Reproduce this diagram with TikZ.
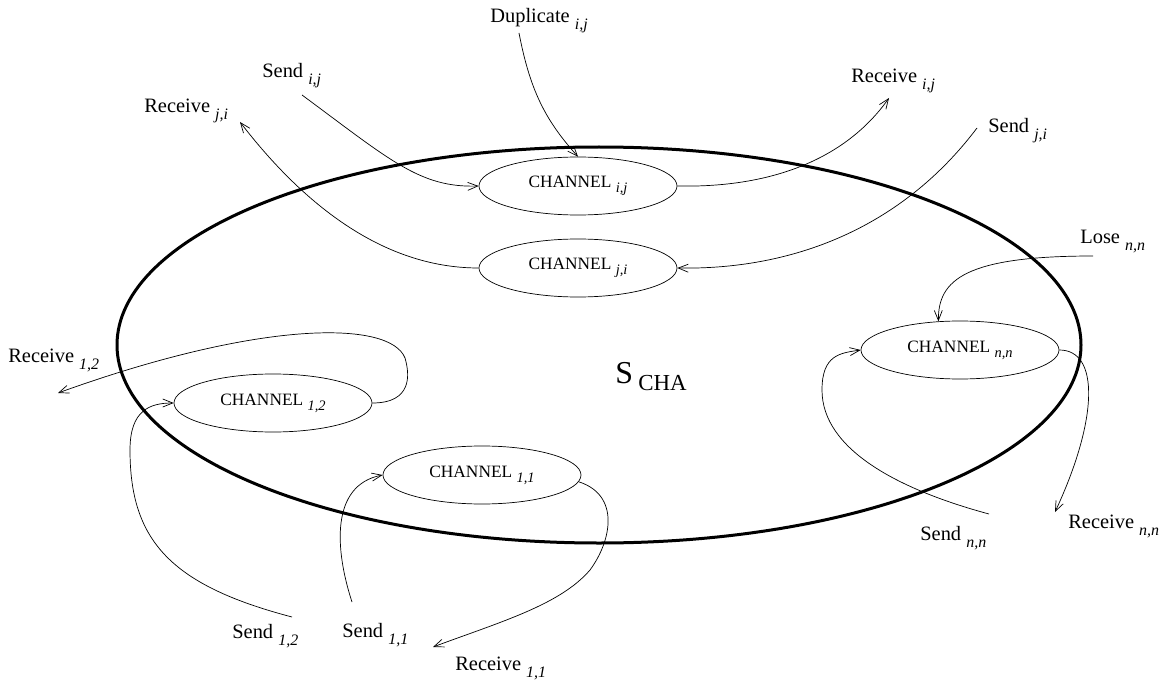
\documentclass[tikz,border=0pt]{standalone}
\usepackage{fontspec}
\setmainfont{Liberation Serif}
\usetikzlibrary{shapes.geometric,arrows.meta}
\newcommand{\lsub}[1]{\raisebox{-7bp}{\fontsize{16}{16}\selectfont\itshape #1}}
\newcommand{\csub}[1]{\raisebox{-5bp}{\fontsize{14.5}{14.5}\selectfont\itshape #1}}
\begin{document}
\begin{tikzpicture}[x=1bp,y=-1bp,line width=0.7bp,
    >={Straight Barb[length=10bp,width=8bp]},
    chan/.style={draw,ellipse,minimum width=198bp,minimum height=58bp,inner sep=0pt,font=\fontsize{17.4}{20}\selectfont},
    lbl/.style={inner sep=0pt,anchor=base west,font=\fontsize{20.5}{24}\selectfont}]
    \useasboundingbox (0,0) rectangle (1166,683);
    \draw[line width=3bp] (599,345) ellipse (482 and 198);
    \node[inner sep=0pt,anchor=base west,font=\fontsize{32}{36}\selectfont] (scha) at (615,383) {S\,\raisebox{-7bp}{\fontsize{23}{23}\selectfont CHA}};

    \node[chan] (cij) at (578,186) {CHANNEL \csub{i,j}};
    \node[chan] (cji) at (578,268) {CHANNEL \csub{j,i}};
    \node[chan] (c12) at (273,403) {CHANNEL \csub{1,2}};
    \node[chan] (c11) at (482,475) {CHANNEL \csub{1,1}};
    \node[chan] (cnn) at (960,350) {CHANNEL \csub{n,n}};

    \node[lbl] (dup) at (490,23) {Duplicate \lsub{i,j}};
    \node[lbl] (sij) at (262,78) {Send \lsub{i,j}};
    \node[lbl] (rji) at (144,113) {Receive \lsub{j,i}};
    \node[lbl] (rij) at (851,83) {Receive \lsub{i,j}};
    \node[lbl] (sji) at (988,133) {Send \lsub{j,i}};
    \node[lbl] (lnn) at (1080,243) {Lose \lsub{n,n}};
    \node[lbl] (r12) at (8,362) {Receive \lsub{1,2}};
    \node[lbl] (s12) at (232,638) {Send \lsub{1,2}};
    \node[lbl] (s11) at (342,637) {Send \lsub{1,1}};
    \node[lbl] (r11) at (455,670) {Receive \lsub{1,1}};
    \node[lbl] (snn) at (920,540) {Send \lsub{n,n}};
    \node[lbl] (rnn) at (1068,528) {Receive \lsub{n,n}};

    \coordinate (dupe) at (519,33);
    \coordinate (sije) at (302,95);
    \coordinate (rjie) at (240,122);
    \coordinate (rije) at (889,98);
    \coordinate (sjie) at (977,128);
    \coordinate (lnne) at (1093,256);
    \coordinate (r12e) at (58,393);
    \coordinate (s12e) at (292,617);
    \coordinate (s11e) at (352,602);
    \coordinate (r11e) at (433,647);
    \coordinate (snne) at (989,514);
    \coordinate (rnne) at (1055,512);

    \draw[->] (dupe) .. controls (530,90) and (545,120) .. (cij.north);
    \draw[->] (sije) .. controls (390,160) and (420,188) .. (cij.west);
    \draw[->] (cij.east) .. controls (770,188) and (845,160) .. (rije);
    \draw[->] (sjie) .. controls (900,230) and (790,270) .. (cji.east);
    \draw[->] (cji.west) .. controls (380,268) and (300,200) .. (rjie);
    \draw[->] (lnne) .. controls (965,256) and (938,280) .. (cnn.127);
    \draw[->] (c12.east) .. controls (412,403) and (410,375) .. (405,358) .. controls (390,320) and (260,320) .. (r12e);
    \draw[->] (s12e) .. controls (170,585) and (130,540) .. (130,450) .. controls (130,410) and (150,403) .. (c12.west);
    \draw[->] (s11e) .. controls (335,550) and (330,485) .. (c11.west);
    \draw[->] (c11.-4) .. controls (620,495) and (612,540) .. (590,570) .. controls (560,605) and (500,622) .. (r11e);
    \draw[->] (snne) .. controls (900,490) and (822,450) .. (822,390) .. controls (822,355) and (840,353) .. (cnn.west);
    \draw[->] (cnn.east) .. controls (1100,350) and (1098,420) .. (rnne);
\end{tikzpicture}
\end{document}
